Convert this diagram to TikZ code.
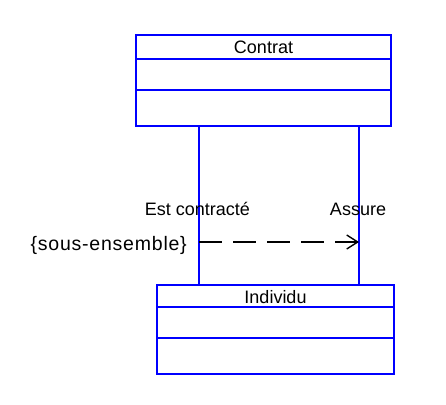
\documentclass[tikz,border=0pt]{standalone}
\usepackage{fontspec}
\setmainfont{Liberation Sans}
\newfontfamily\spacedfont[LetterSpace=4]{Liberation Sans}
\usetikzlibrary{arrows.meta}
\definecolor{umlblue}{RGB}{0,0,255}
\tikzset{
  classbox/.style={draw=umlblue, line width=1.6pt, rectangle, inner sep=0pt, fill=white},
  divider/.style={draw=umlblue, line width=1.6pt},
  assoc/.style={draw=umlblue, line width=1.6pt},
  lbl/.style={font=\fontsize{18}{20}\selectfont, inner sep=0pt, text=black},
  constraint/.style={draw=black, line width=1.6pt, dash pattern=on 23pt off 11pt,
    -{Straight Barb[length=11pt,width=14pt,line width=1.4pt]}},
}
\begin{document}
\begin{tikzpicture}[x=1pt,y=-1pt]
\useasboundingbox (0,0) rectangle (446,404);
% Contrat
\node[classbox, minimum width=255pt, minimum height=91pt] (contrat) at (263.5,80.5) {};
\node[lbl, anchor=base] (contratname) at (263.5,53) {Contrat};
\draw[divider] (contrat.west |- 0,59) -- (contrat.east |- 0,59);
\draw[divider] (contrat.west |- 0,90) -- (contrat.east |- 0,90);
% Individu
\node[classbox, minimum width=237pt, minimum height=89pt] (individu) at (275.5,329.5) {};
\node[lbl, anchor=base] (individuname) at (275.5,303) {Individu};
\draw[divider] (individu.west |- 0,307) -- (individu.east |- 0,307);
\draw[divider] (individu.west |- 0,338) -- (individu.east |- 0,338);
% associations
\coordinate (lx) at (199,0);
\coordinate (rx) at (359,0);
\draw[assoc] (contrat.south -| lx) -- (individu.north -| lx);
\draw[assoc] (contrat.south -| rx) -- (individu.north -| rx);
% role labels
\node[lbl, anchor=base east] (role1) at (250,215) {Est contracté};
\node[lbl, anchor=base] (role2) at (358,215) {Assure};
% constraint
\coordinate (dl) at (199,242);
\coordinate (dr) at (359,242);
\draw[constraint] (dl) -- (dr);
\node[lbl, font=\spacedfont\fontsize{19.5}{21}\selectfont, anchor=base east] (cons) at (187,250) {\{sous-ensemble\}};
\end{tikzpicture}
\end{document}
